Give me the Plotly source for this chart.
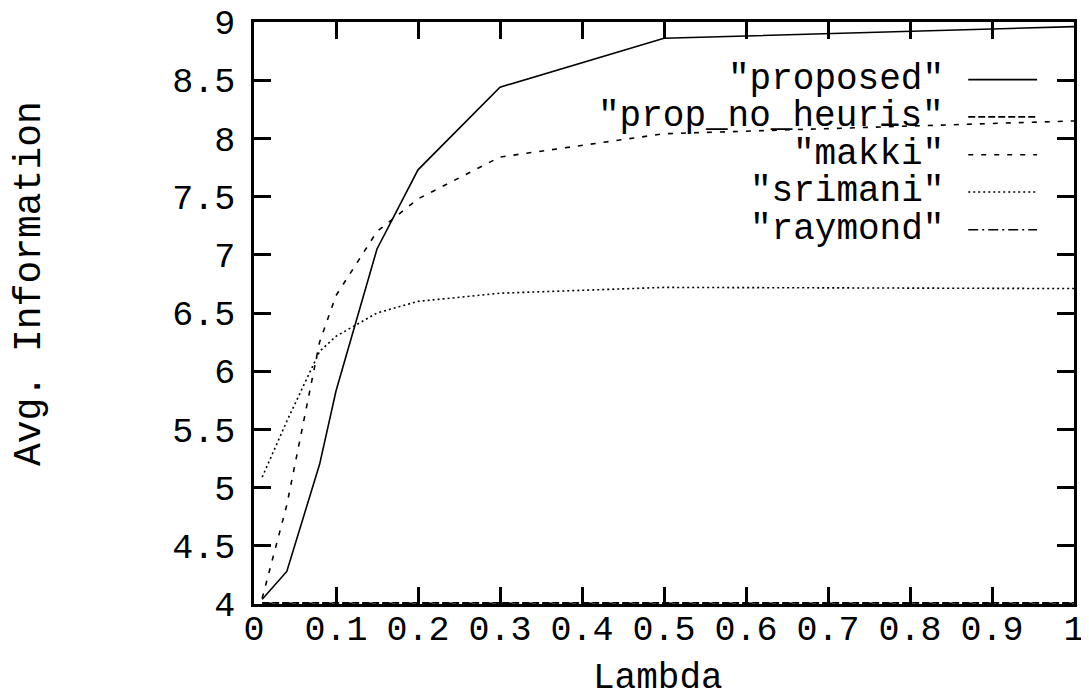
import plotly.graph_objects as go

# ---- data ----
lam = [0.01, 0.04, 0.08, 0.10, 0.15, 0.20, 0.30, 0.50, 1.00]
proposed = [4.04, 4.28, 5.20, 5.83, 7.05, 7.73, 8.44, 8.86, 8.96]
prop_no_heuris = [4.01, 4.01, 4.01, 4.01, 4.01, 4.01, 4.01, 4.01, 4.01]
makki = [4.05, 4.85, 6.25, 6.65, 7.20, 7.48, 7.84, 8.04, 8.15]
srimani = [5.09, 5.57, 6.17, 6.30, 6.50, 6.60, 6.67, 6.72, 6.71]
raymond = [4.005, 4.005, 4.005, 4.005, 4.005, 4.005, 4.005, 4.005, 4.005]

names = ['"proposed"', '"prop_no_heuris"', '"makki"', '"srimani"', '"raymond"']
series = [proposed, prop_no_heuris, makki, srimani, raymond]
dashes = ["solid", "7px,3px", "5px,8px", "2px,3px", "10px,4px,2px,4px"]

x_ticks = [0, 0.1, 0.2, 0.3, 0.4, 0.5, 0.6, 0.7, 0.8, 0.9, 1]
x_labels = ["0", "0.1", "0.2", "0.3", "0.4", "0.5", "0.6", "0.7", "0.8", "0.9", "1"]
y_ticks = [4, 4.5, 5, 5.5, 6, 6.5, 7, 7.5, 8, 8.5, 9]
y_labels = ["4", "4.5", "5", "5.5", "6", "6.5", "7", "7.5", "8", "8.5", "9"]

FONT = "Liberation Mono"
FS = 35
LW = 1.6

fig = go.Figure()
for nm, ys, ds in zip(names, series, dashes):
    fig.add_trace(go.Scatter(x=lam, y=ys, mode="lines", name=nm,
                             line=dict(color="black", width=LW, dash=ds),
                             showlegend=False))

# gnuplot-style key: right-aligned text with sample line to the right
shapes = []
annotations = []
row_y = [0.901, 0.837, 0.772, 0.708, 0.643]
for nm, ds, ry in zip(names, dashes, row_y):
    annotations.append(dict(xref="paper", yref="paper", x=0.844, y=ry, text=nm,
                            showarrow=False, xanchor="right", yanchor="middle",
                            font=dict(family=FONT, size=36, color="black")))
    shapes.append(dict(type="line", xref="paper", yref="paper",
                       x0=0.871, x1=0.955, y0=ry, y1=ry,
                       line=dict(color="black", width=LW, dash=ds)))

annotations.append(dict(xref="paper", yref="paper", x=-0.273, y=0.55,
                        text="Avg. Information", textangle=-90, showarrow=False,
                        xanchor="center", yanchor="middle",
                        font=dict(family=FONT, size=38, color="black")))
annotations.append(dict(xref="paper", yref="paper", x=0.493, y=-0.128,
                        text="Lambda", showarrow=False,
                        xanchor="center", yanchor="middle",
                        font=dict(family=FONT, size=36, color="black")))

axis_common = dict(showgrid=False, zeroline=False, showline=True, linecolor="black",
                   linewidth=2.5, mirror="ticks", ticks="inside", ticklen=17,
                   tickwidth=2.5, tickcolor="black", ticklabeloverflow="allow",
                   tickfont=dict(family=FONT, size=FS, color="black"))

# page body has an 8px margin, so the figure is offset by (8, 8) in the window
fig.update_layout(
    width=1081, height=692,
    margin=dict(l=246, r=15, t=14, b=96, autoexpand=False),
    paper_bgcolor="white", plot_bgcolor="white",
    xaxis=dict(range=[0, 1], tickmode="array", tickvals=x_ticks, ticktext=x_labels,
               ticklabelstandoff=-9, **axis_common),
    yaxis=dict(range=[4, 9], tickmode="array", tickvals=y_ticks, ticktext=y_labels,
               ticklabelstandoff=9, **axis_common),
    shapes=shapes, annotations=annotations,
)

fig.write_html("out.html")
